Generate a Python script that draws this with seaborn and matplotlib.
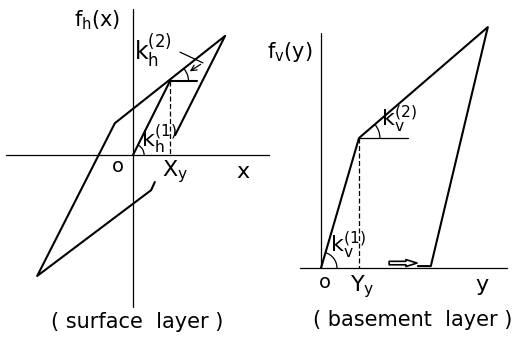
import numpy as np
import matplotlib
matplotlib.use("Agg")
import matplotlib.pyplot as plt
import seaborn as sns
from matplotlib.patches import Arc

sns.set_style("white")
plt.rcParams['font.family'] = ['DejaVu Sans']
plt.rcParams['mathtext.fontset'] = 'dejavusans'
plt.rcParams['text.color'] = 'black'

# ---- surface layer (units: X_y = 1) ----
surf_axis_x = [-3.43, 3.70]
surf_axis_y = [-4.11, 3.95]
surf_load_x = [0.0, 1.0]
surf_load_y = [0.0, 2.0]
surf_loop_x = [1.14, 2.49, -0.49, -2.59, 0.49, 0.59]
surf_loop_y = [0.54, 3.22, 0.86, -3.27, -0.95, -0.73]
surf_yield = (1.0, 2.0)
surf_tangent_x = [1.0, 1.73]

# ---- basement layer (units: Y_y = 1) ----
base_axis_x = [-0.55, 4.89]
base_axis_y = [0.0, 6.18]
base_loop_x = [0.0, 1.0, 4.39, 2.89, 2.55]
base_loop_y = [0.0, 3.42, 6.34, 0.05, 0.05]
base_yield = (1.0, 3.42)
base_tangent_x = [1.0, 2.3]

W, H = 525, 338
fig = plt.figure(figsize=(W / 100, H / 100), dpi=100)

LW = 1.5
AXLW = 0.9

def line(ax, x, y, lw=LW, ls='-'):
    sns.lineplot(x=x, y=y, sort=False, estimator=None, color='black',
                 lw=lw, linestyle=ls, ax=ax)

# left panel: 37 px per unit, origin at px (133,155)
axL = fig.add_axes([0, 0, 270 / W, 1])
axL.set_xlim(-133 / 37, (270 - 133) / 37)
axL.set_ylim((155 - 338) / 37, 155 / 37)
axL.axis('off')
line(axL, surf_axis_x, [0, 0], lw=AXLW)
line(axL, [0, 0], surf_axis_y, lw=AXLW)
line(axL, surf_load_x, surf_load_y)
line(axL, surf_loop_x, surf_loop_y)
line(axL, [surf_yield[0], surf_yield[0]], [surf_yield[1], 0], lw=AXLW, ls=(0, (4, 2)))
line(axL, surf_tangent_x, [surf_yield[1]] * 2, lw=LW)
k1 = np.degrees(np.arctan2(surf_load_y[1], surf_load_x[1]))
k2 = np.degrees(np.arctan2(surf_loop_y[1] - surf_yield[1], surf_loop_x[1] - surf_yield[0]))
axL.add_patch(Arc((0, 0), 0.6, 0.6, theta1=0, theta2=k1, color='black', lw=AXLW))
axL.add_patch(Arc(surf_yield, 1.0, 1.0, theta1=0, theta2=k2, color='black', lw=AXLW))
axL.plot([1.27, 1.89], [2.78, 2.49], color='black', lw=AXLW)
axL.annotate('', xy=(1.47, 2.22), xytext=(1.89, 2.49),
             arrowprops=dict(arrowstyle='->', color='black', lw=AXLW))
fs = 14
axL.text(-0.97, 3.65, r'$\mathregular{f_h(x)}$', fontsize=fs + 1, ha='center', va='center')
axL.text(0.55, 2.84, r'$\mathregular{k_h^{(2)}}$', fontsize=fs + 3, ha='center', va='center')
axL.text(0.7, 0.45, r'$\mathregular{k_h^{(1)}}$', fontsize=fs + 2, ha='center', va='center')
axL.text(-0.41, -0.32, 'o', fontsize=fs, ha='center', va='center')
axL.text(1.14, -0.46, r'$\mathregular{X_y}$', fontsize=fs + 2, ha='center', va='center')
axL.text(2.97, -0.45, 'x', fontsize=fs + 2, ha='center', va='center')
axL.text(0.11, -4.51, '( surface  layer )', fontsize=fs + 1, ha='center', va='center')

# right panel: 38 px per unit, origin at px (321,268)
axR = fig.add_axes([270 / W, 0, 255 / W, 1])
axR.set_xlim((270 - 321) / 38, (525 - 321) / 38)
axR.set_ylim((268 - 338) / 38, 268 / 38)
axR.axis('off')
line(axR, base_axis_x, [0, 0], lw=AXLW)
line(axR, [0, 0], base_axis_y, lw=AXLW)
line(axR, base_loop_x, base_loop_y)
line(axR, [base_yield[0], base_yield[0]], [base_yield[1], 0], lw=AXLW, ls=(0, (4, 2)))
line(axR, base_tangent_x, [base_yield[1]] * 2, lw=AXLW)
b1 = np.degrees(np.arctan2(base_loop_y[1], base_loop_x[1]))
b2 = np.degrees(np.arctan2(base_loop_y[2] - base_yield[1], base_loop_x[2] - base_yield[0]))
axR.add_patch(Arc((0, 0), 0.84, 0.84, theta1=0, theta2=b1, color='black', lw=AXLW))
axR.add_patch(Arc(base_yield, 1.1, 1.1, theta1=0, theta2=b2, color='black', lw=AXLW))
axR.annotate('', xy=(2.6, 0.13), xytext=(1.72, 0.13),
             arrowprops=dict(arrowstyle='simple,head_length=0.8,head_width=0.5,tail_width=0.25',
                             fc='white', ec='black', lw=1.2))
axR.text(-0.82, 5.68, r'$\mathregular{f_v(y)}$', fontsize=fs + 1, ha='center', va='center')
axR.text(2.05, 3.9, r'$\mathregular{k_v^{(2)}}$', fontsize=fs + 2, ha='center', va='center')
axR.text(0.7, 0.6, r'$\mathregular{k_v^{(1)}}$', fontsize=fs + 2, ha='center', va='center')
axR.text(0.1, -0.39, 'o', fontsize=fs, ha='center', va='center')
axR.text(1.08, -0.5, r'$\mathregular{Y_y}$', fontsize=fs + 2, ha='center', va='center')
axR.text(4.24, -0.45, 'y', fontsize=fs + 2, ha='center', va='center')
axR.text(2.42, -1.37, '( basement  layer )', fontsize=fs + 1, ha='center', va='center')

fig.savefig('out.png', dpi=100)
